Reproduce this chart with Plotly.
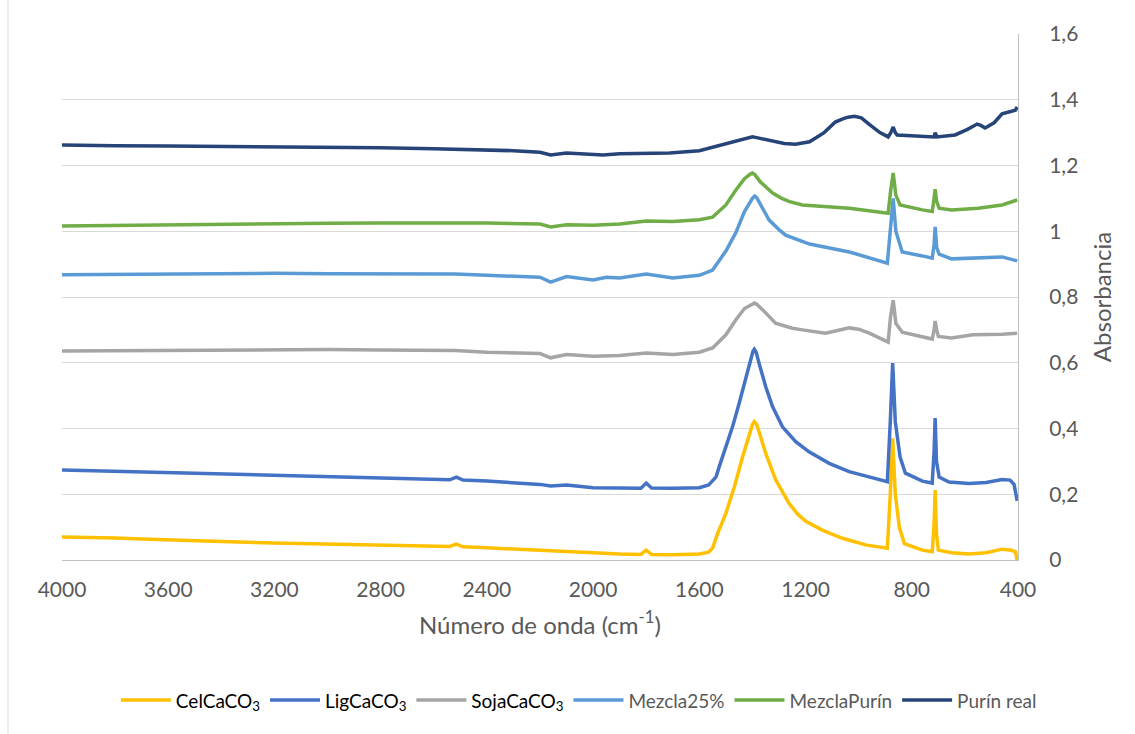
import plotly.graph_objects as go

# ---------------- data ----------------
cel_wn = [4000, 3900, 3800, 3700, 3600, 3400, 3200, 3000, 2800, 2600, 2540, 2515, 2490, 2400,
          2200, 2000, 1900, 1820, 1800, 1780, 1700, 1600, 1565, 1550, 1531, 1500, 1468, 1437,
          1412, 1400, 1393, 1385, 1375, 1350, 1312, 1262, 1230, 1199, 1137, 1061, 974, 892, 881,
          872, 862, 847, 828, 760, 723, 716, 712, 707, 700, 650, 584, 520, 460, 425, 410, 403]
cel_y = [0.070, 0.069, 0.067, 0.064, 0.061, 0.056, 0.052, 0.049, 0.046, 0.042, 0.041, 0.048,
         0.040, 0.037, 0.029, 0.021, 0.018, 0.017, 0.030, 0.017, 0.016, 0.018, 0.024, 0.036,
         0.081, 0.142, 0.223, 0.314, 0.385, 0.412, 0.421, 0.414, 0.390, 0.324, 0.243, 0.172,
         0.140, 0.118, 0.091, 0.066, 0.046, 0.036, 0.200, 0.370, 0.200, 0.100, 0.050, 0.030,
         0.025, 0.110, 0.213, 0.080, 0.030, 0.022, 0.018, 0.022, 0.033, 0.030, 0.025, 0.000]

lig_wn = [4000, 3900, 3800, 3700, 3600, 3400, 3200, 3000, 2800, 2600, 2540, 2515, 2490, 2400,
          2300, 2200, 2160, 2100, 2000, 1900, 1820, 1800, 1780, 1700, 1600, 1565, 1537, 1525,
          1500, 1475, 1450, 1425, 1406, 1398, 1393, 1386, 1375, 1350, 1324, 1287, 1237, 1187,
          1111, 1036, 961, 892, 881, 872, 862, 844, 824, 760, 723, 716, 712, 707, 697, 660, 584,
          520, 460, 430, 415, 403]
lig_y = [0.274, 0.272, 0.270, 0.268, 0.266, 0.262, 0.258, 0.254, 0.250, 0.245, 0.244, 0.252,
         0.243, 0.240, 0.236, 0.230, 0.225, 0.228, 0.220, 0.218, 0.218, 0.234, 0.219, 0.218,
         0.220, 0.228, 0.253, 0.284, 0.345, 0.405, 0.477, 0.558, 0.618, 0.635, 0.641, 0.632,
         0.598, 0.527, 0.466, 0.405, 0.360, 0.329, 0.294, 0.269, 0.253, 0.238, 0.420, 0.599,
         0.420, 0.313, 0.264, 0.240, 0.234, 0.330, 0.432, 0.300, 0.252, 0.237, 0.233, 0.236,
         0.245, 0.243, 0.230, 0.180]

soja_wn = [4000, 3800, 3600, 3400, 3200, 3000, 2800, 2600, 2520, 2400, 2200, 2160, 2100, 2000,
           1900, 1800, 1700, 1600, 1550, 1500, 1463, 1430, 1400, 1392, 1384, 1360, 1313, 1250,
           1212, 1125, 1080, 1035, 1000, 960, 889, 880, 870, 860, 836, 760, 723, 716, 712, 706,
           700, 650, 570, 460, 403]
soja_y = [0.636, 0.637, 0.638, 0.640, 0.641, 0.640, 0.639, 0.637, 0.637, 0.632, 0.628, 0.615,
          0.625, 0.620, 0.622, 0.630, 0.625, 0.632, 0.645, 0.685, 0.730, 0.765, 0.780, 0.782,
          0.778, 0.760, 0.720, 0.705, 0.700, 0.690, 0.698, 0.706, 0.702, 0.690, 0.663, 0.740,
          0.790, 0.720, 0.693, 0.678, 0.672, 0.700, 0.727, 0.700, 0.680, 0.675, 0.685, 0.687,
          0.690]

m25_wn = [4000, 3800, 3600, 3400, 3200, 3000, 2800, 2600, 2520, 2400, 2200, 2160, 2100, 2000,
          1950, 1900, 1800, 1700, 1600, 1550, 1500, 1463, 1430, 1400, 1392, 1384, 1370, 1337,
          1300, 1275, 1185, 1035, 892, 880, 870, 860, 836, 760, 723, 716, 712, 706, 697, 650,
          550, 460, 403]
m25_y = [0.868, 0.869, 0.870, 0.872, 0.872, 0.871, 0.870, 0.869, 0.870, 0.866, 0.860, 0.845,
         0.862, 0.852, 0.860, 0.858, 0.870, 0.858, 0.866, 0.882, 0.940, 0.995, 1.060, 1.100,
         1.107, 1.102, 1.080, 1.034, 1.005, 0.988, 0.961, 0.937, 0.903, 1.000, 1.100, 1.000,
         0.937, 0.925, 0.918, 0.960, 1.013, 0.950, 0.930, 0.916, 0.920, 0.922, 0.910]

mp_wn = [4000, 3800, 3600, 3400, 3200, 3000, 2800, 2600, 2520, 2400, 2200, 2160, 2100, 2000,
         1900, 1800, 1700, 1600, 1550, 1500, 1463, 1430, 1408, 1400, 1392, 1370, 1324, 1290,
         1260, 1212, 1035, 889, 880, 870, 860, 844, 760, 723, 716, 712, 706, 697, 650, 550,
         460, 403]
mp_y = [1.016, 1.018, 1.020, 1.021, 1.023, 1.024, 1.025, 1.025, 1.027, 1.025, 1.022, 1.013,
        1.020, 1.018, 1.022, 1.031, 1.030, 1.035, 1.043, 1.080, 1.125, 1.160, 1.174, 1.177,
        1.173, 1.150, 1.116, 1.100, 1.090, 1.080, 1.070, 1.055, 1.120, 1.177, 1.110, 1.080,
        1.065, 1.060, 1.100, 1.128, 1.090, 1.070, 1.065, 1.070, 1.080, 1.095]

pr_wn = [4000, 3900, 3800, 3600, 3400, 3200, 3000, 2800, 2600, 2400, 2300, 2200, 2160, 2100,
         2000, 1963, 1900, 1800, 1712, 1600, 1550, 1480, 1420, 1400, 1380, 1330, 1280, 1238,
         1185, 1130, 1088, 1060, 1040, 1016, 990, 960, 920, 889, 879, 870, 862, 855, 800, 723,
         716, 712, 708, 705, 637, 590, 554, 540, 524, 490, 460, 430, 410, 403]
pr_y = [1.262, 1.262, 1.260, 1.259, 1.258, 1.257, 1.255, 1.254, 1.251, 1.248, 1.245, 1.240,
        1.232, 1.238, 1.232, 1.232, 1.236, 1.237, 1.238, 1.245, 1.256, 1.272, 1.284, 1.287,
        1.284, 1.275, 1.267, 1.265, 1.272, 1.300, 1.332, 1.342, 1.347, 1.350, 1.345, 1.325,
        1.300, 1.287, 1.300, 1.317, 1.300, 1.293, 1.290, 1.287, 1.287, 1.300, 1.287, 1.287,
        1.293, 1.310, 1.326, 1.322, 1.314, 1.330, 1.357, 1.362, 1.368, 1.378]

series_names = ["CelCaCO<sub>3</sub>", "LigCaCO<sub>3</sub>", "SojaCaCO<sub>3</sub>",
                "Mezcla25%", "MezclaPurín", "Purín real"]
series_colors = ["#FFC000", "#4472C4", "#A5A5A5", "#5B9BD5", "#70AD47", "#264478"]
legend_text_colors = ["#000000", "#000000", "#000000", "#595959", "#595959", "#595959"]

x_ticks = [4000, 3600, 3200, 2800, 2400, 2000, 1600, 1200, 800, 400]
y_ticks = [0, 0.2, 0.4, 0.6, 0.8, 1.0, 1.2, 1.4, 1.6]
y_tick_text = ["0", "0,2", "0,4", "0,6", "0,8", "1", "1,2", "1,4", "1,6"]

# ---------------- figure ----------------
xs = [cel_wn, lig_wn, soja_wn, m25_wn, mp_wn, pr_wn]
ys = [cel_y, lig_y, soja_y, m25_y, mp_y, pr_y]

fig = go.Figure()
for name, col, tcol, x, y in zip(series_names, series_colors, legend_text_colors, xs, ys):
    fig.add_trace(go.Scatter(
        x=x, y=y, mode="lines",
        name=f"<span style='color:{tcol}'>{name}</span>",
        line=dict(color=col, width=3.5),
    ))

FONT = "Lato, 'Open Sans', sans-serif"
L, R, T, B = 62, 117, 34, 174
fig.update_layout(
    width=1135, height=734,
    margin=dict(l=L, r=R, t=T, b=B),
    paper_bgcolor="white", plot_bgcolor="white",
    font=dict(family=FONT, color="#595959", size=21),
    showlegend=True,
    legend=dict(orientation="h", x=0.51, xanchor="center", xref="container",
                y=0.046, yanchor="middle", yref="container",
                font=dict(size=19, color="#595959"), itemwidth=50,
                traceorder="normal"),
    xaxis=dict(range=[4000, 400], tickvals=x_ticks, showgrid=False, zeroline=False,
               showline=True, linecolor="#BFBFBF", linewidth=1, ticks="",
               ticklabelstandoff=11,
               tickfont=dict(size=21, color="#595959"),
               title=dict(text="Número de onda (cm<sup>-1</sup>)", standoff=16,
                          font=dict(size=24, color="#595959"))),
    yaxis=dict(range=[0, 1.6], side="right", tickvals=y_ticks, ticktext=y_tick_text,
               showgrid=True, gridcolor="#D9D9D9", gridwidth=1, zeroline=False,
               showline=True, linecolor="#BFBFBF", linewidth=1, ticks="",
               ticklabelstandoff=26,
               tickfont=dict(size=21, color="#595959"),
               title=dict(text="Absorbancia", standoff=16,
                          font=dict(size=24, color="#595959"))),
)
# light chart-area border visible on the left
W = 1135 - L - R
H = 734 - T - B
fig.add_shape(type="line", xref="paper", yref="paper",
              x0=(8 - L) / W, x1=(8 - L) / W, y0=-B / H, y1=1 + T / H,
              line=dict(color="#D9D9D9", width=1))

fig.write_html("out.html")
